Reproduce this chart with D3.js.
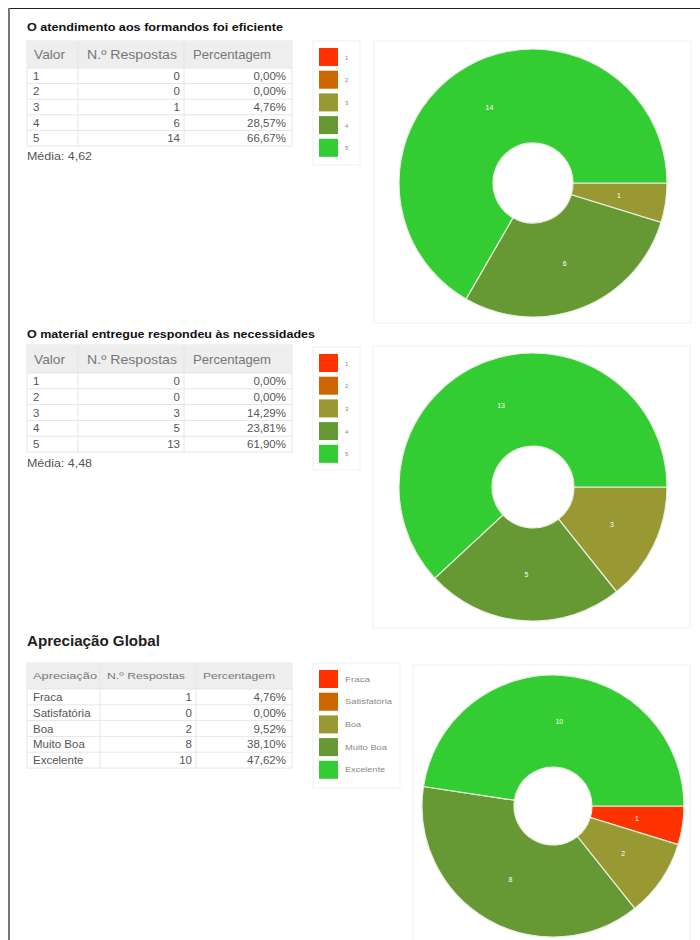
<!DOCTYPE html>
<html><head><meta charset="utf-8">
<script src="https://d3js.org/d3.v7.min.js"></script>
<style>
html,body{margin:0;padding:0;background:#fff;}
svg{display:block;font-family:"Liberation Sans",Arial,sans-serif;}
</style></head>
<body><svg id="c" width="700" height="940"></svg>
<script>
// ---- data ----
const valores = ["1","2","3","4","5"];
const respostas1 = [0,0,1,6,14];
const percent1 = ["0,00%","0,00%","4,76%","28,57%","66,67%"];
const media1 = "4,62";
const respostas2 = [0,0,3,5,13];
const percent2 = ["0,00%","0,00%","14,29%","23,81%","61,90%"];
const media2 = "4,48";
const apreciacoes = ["Fraca","Satisfatória","Boa","Muito Boa","Excelente"];
const respostas3 = [1,0,2,8,10];
const percent3 = ["4,76%","0,00%","9,52%","38,10%","47,62%"];
const colors = ["#ff3300","#cc6600","#999933","#669933","#33cc33"];
const title1 = "O atendimento aos formandos foi eficiente";
const title2 = "O material entregue respondeu às necessidades";
const title3 = "Apreciação Global";
const headers12 = ["Valor","N.º Respostas","Percentagem"];
const headers3 = ["Apreciação","N.º Respostas","Percentagem"];

const svg = d3.select("#c");
// page borders
svg.append("line").attr("x1",8).attr("x2",700).attr("y1",8.5).attr("y2",8.5).attr("stroke","#222").attr("stroke-width",1.2);
svg.append("line").attr("x1",9).attr("x2",9).attr("y1",8).attr("y2",940).attr("stroke","#777").attr("stroke-width",2);

function fitText(sel, len){
  if (len) sel.attr("textLength",len).attr("lengthAdjust","spacingAndGlyphs");
  return sel;
}

function table(g, y0, cats, counts, percs, headers, opts){
  const cols = opts.cols;
  const hh = opts.headH, rh = opts.rowH;
  const yScale = d3.scaleBand().domain(cats).range([y0+hh, y0+hh+rh*cats.length]);
  g.append("rect").attr("x",cols[0]).attr("y",y0).attr("width",cols[3]-cols[0]).attr("height",hh+rh*cats.length)
    .attr("fill","#fff").attr("stroke","#e6e6e6");
  g.append("rect").attr("x",cols[0]).attr("y",y0).attr("width",cols[3]-cols[0]).attr("height",hh).attr("fill","#eeeeee");
  headers.forEach((h,i)=>{
    fitText(g.append("text").attr("x",opts.headX[i]).attr("y",y0+hh/2+opts.headFs*0.36).attr("font-size",opts.headFs)
      .attr("fill","#777").text(h), opts.headW[i]);
  });
  [1,2].forEach(i=>g.append("line").attr("x1",cols[i]).attr("x2",cols[i]).attr("y1",y0).attr("y2",y0+hh+rh*cats.length).attr("stroke","#e6e6e6"));
  cats.forEach((c,i)=>{
    const y = yScale(c);
    g.append("line").attr("x1",cols[0]).attr("x2",cols[3]).attr("y1",y).attr("y2",y).attr("stroke","#e6e6e6");
    const by = y + rh/2 + 4;
    g.append("text").attr("x",cols[0]+6).attr("y",by).attr("font-size",11.5).attr("fill","#555").text(c);
    g.append("text").attr("x",cols[2]-4).attr("y",by).attr("font-size",11.5).attr("fill","#555").attr("text-anchor","end").text(counts[i]);
    g.append("text").attr("x",cols[3]-6).attr("y",by).attr("font-size",11.5).attr("fill","#555").attr("text-anchor","end").text(percs[i]);
  });
}

function legend(g, x0, y0, w, h, labels, fs, widths){
  g.append("rect").attr("x",x0).attr("y",y0).attr("width",w).attr("height",h).attr("fill","#fff").attr("stroke","#f0f0f0");
  const ys = d3.scalePoint().domain(labels).range([y0+7, y0+7+22.7*4]);
  labels.forEach((l,i)=>{
    g.append("rect").attr("x",x0+6).attr("y",ys(l)).attr("width",19).attr("height",18).attr("fill",colors[i]);
    fitText(g.append("text").attr("x",x0+32).attr("y",ys(l)+11.5).attr("font-size",fs).attr("fill","#888").text(l), widths ? widths[i] : null);
  });
}

function donut(g, box, cx, cy, rOut, rIn, counts){
  g.append("rect").attr("x",box[0]).attr("y",box[1]).attr("width",box[2]).attr("height",box[3]).attr("fill","#fff").attr("stroke","#f0f0f0");
  const data = counts.map((v,i)=>({v,i})).filter(d=>d.v>0);
  const pie = d3.pie().value(d=>d.v).sort(null).startAngle(Math.PI/2).endAngle(Math.PI/2+2*Math.PI);
  const arc = d3.arc().innerRadius(rIn).outerRadius(rOut);
  const gg = g.append("g").attr("transform",`translate(${cx},${cy})`);
  const arcs = pie(data);
  gg.selectAll("path").data(arcs).join("path").attr("d",arc).attr("fill",d=>colors[d.data.i])
    .attr("stroke","#e8f0e0").attr("stroke-width",1.2);
  gg.selectAll("text").data(arcs).join("text").attr("transform",d=>`translate(${arc.centroid(d)})`)
    .attr("text-anchor","middle").attr("dy","0.35em").attr("font-size",7).attr("fill","#fff").text(d=>d.data.v);
}

// Section 1
const s1 = svg.append("g");
fitText(s1.append("text").attr("x",27).attr("y",31).attr("font-size",11).attr("font-weight","bold").attr("fill","#111").text(title1), 256);
table(s1, 41, valores, respostas1, percent1, headers12, {cols:[27,78,184,292], headH:27, rowH:15.6, headFs:13, headX:[34,87,193], headW:[31,90,78]});
fitText(s1.append("text").attr("x",27).attr("y",160).attr("font-size",11.5).attr("fill","#555").text("Média: "+media1), 65);
legend(s1, 313, 41, 47, 124, valores, 6);
donut(s1, [374,41,317,282], 533, 183, 134, 40, respostas1);

// Section 2
const s2 = svg.append("g");
fitText(s2.append("text").attr("x",27).attr("y",338).attr("font-size",11).attr("font-weight","bold").attr("fill","#111").text(title2), 288);
table(s2, 345, valores, respostas2, percent2, headers12, {cols:[27,78,184,292], headH:28, rowH:15.8, headFs:13, headX:[34,87,193], headW:[31,90,78]});
fitText(s2.append("text").attr("x",27).attr("y",467).attr("font-size",11.5).attr("fill","#555").text("Média: "+media2), 65);
legend(s2, 313, 347, 47, 123, valores, 6);
donut(s2, [373,346,317,282], 533, 487, 134, 41, respostas2);

// Section 3
const s3 = svg.append("g");
fitText(s3.append("text").attr("x",27).attr("y",646).attr("font-size",14.5).attr("font-weight","bold").attr("fill","#222").text(title3), 133);
table(s3, 663, apreciacoes, respostas3, percent3, headers3, {cols:[27,100,196,292], headH:26, rowH:15.8, headFs:9, headX:[33,107,203], headW:[64,78,72]});
legend(s3, 313, 663, 87, 125, apreciacoes, 6.5, [25,47,16,42,40]);
donut(s3, [413,665,277,290], 553, 806, 131, 39, respostas3);
</script></body></html>
